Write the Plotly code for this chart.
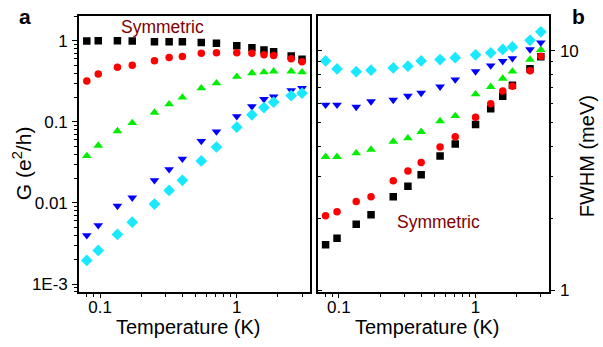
import plotly.graph_objects as go

temperature = [0.08, 0.097, 0.134, 0.172, 0.25, 0.32, 0.40, 0.55, 0.71, 1.0, 1.29, 1.58, 1.86, 2.5, 3.0]

# Panel a: conductance G (e^2/h)
g_black = [0.99, 1.0, 1.0, 0.99, 0.97, 0.97, 0.97, 0.95, 0.93, 0.87, 0.82, 0.77, 0.73, 0.65, 0.59]
g_red = [0.32, 0.39, 0.47, 0.50, 0.565, 0.62, 0.64, 0.70, 0.71, 0.71, 0.70, 0.67, 0.66, 0.60, 0.55]
g_green = [0.038, 0.051, 0.077, 0.097, 0.13, 0.165, 0.20, 0.26, 0.30, 0.36, 0.40, 0.41, 0.42, 0.42, 0.41]
g_blue = [0.0040, 0.0053, 0.0092, 0.0116, 0.019, 0.026, 0.035, 0.058, 0.076, 0.117, 0.155, 0.19, 0.205, 0.245, 0.26]
g_cyan = [0.00196, 0.0026, 0.0041, 0.0058, 0.0097, 0.0143, 0.019, 0.033, 0.049, 0.086, 0.122, 0.15, 0.175, 0.21, 0.226]

# Panel b: FWHM (meV)
w_black = [1.55, 1.65, 1.89, 2.07, 2.46, 2.72, 3.04, 3.64, 4.08, 4.93, 5.73, 6.46, 7.19, 8.41, 9.45]
w_red = [2.05, 2.13, 2.35, 2.46, 2.87, 3.15, 3.42, 3.97, 4.38, 5.28, 6.01, 6.79, 7.12, 8.26, 9.48]
w_green = [3.61, 3.61, 3.74, 3.87, 4.18, 4.32, 4.59, 5.09, 5.35, 6.59, 7.08, 7.66, 8.2, 9.19, 10.1]
w_blue = [5.95, 5.95, 5.83, 6.15, 6.24, 6.48, 6.67, 7.08, 7.59, 8.2, 8.68, 9.05, 9.3, 10.13, 10.82]
w_cyan = [9.07, 8.4, 8.18, 8.3, 8.48, 8.63, 9.07, 9.19, 9.36, 9.62, 9.81, 10.13, 10.38, 11.06, 12.0]

x_tickvals = [0.1, 1]
x_ticktext = ["0.1", "1"]
g_tickvals = [0.001, 0.01, 0.1, 1]
g_ticktext = ["1E-3", "0.01", "0.1", "1"]
w_tickvals = [1, 10]
w_ticktext = ["1", "10"]

# minor tick positions on the log axes: 2..9 within each decade
minor_vals = [d * 10.0 ** e for e in range(-4, 2) for d in range(2, 10)]

styles = [
    ("square", "#000000", 7.5),
    ("circle", "#ff0000", 7.5),
    ("triangle-up", "#00ee00", 8.5),
    ("triangle-down", "#0000ff", 8.5),
    ("diamond", "#19e8ff", 9),
]

fig = go.Figure()
for ys, (sym, col, sz) in zip([g_black, g_red, g_green, g_blue, g_cyan], styles):
    fig.add_trace(go.Scatter(x=temperature, y=ys, mode="markers",
                             marker=dict(symbol=sym, color=col, size=sz, line=dict(width=0)),
                             xaxis="x", yaxis="y", showlegend=False))
for ys, (sym, col, sz) in zip([w_black, w_red, w_green, w_blue, w_cyan], styles):
    fig.add_trace(go.Scatter(x=temperature, y=ys, mode="markers",
                             marker=dict(symbol=sym, color=col, size=sz, line=dict(width=0)),
                             xaxis="x2", yaxis="y2", showlegend=False))
# empty trace so the inner tick axis on the left edge of panel b is drawn
fig.add_trace(go.Scatter(x=[], y=[], xaxis="x2", yaxis="y3", showlegend=False))

font_family = "Liberation Sans, Arial, sans-serif"
tickfont = dict(family=font_family, size=17, color="black")
xr = [-1.154, 0.535]
ydom = [0.138, 0.954]
minor_out = dict(tickmode="array", tickvals=minor_vals, ticks="outside", ticklen=3,
                 tickcolor="black", tickwidth=1, showgrid=False)
minor_in = dict(tickmode="array", tickvals=minor_vals, ticks="inside", ticklen=3,
                tickcolor="black", tickwidth=1, showgrid=False)

common_x = dict(type="log", range=xr, tickmode="array", tickvals=x_tickvals, ticktext=x_ticktext,
                ticks="outside", ticklen=4, tickwidth=1, tickcolor="black",
                minor=minor_out,
                showline=True, linecolor="black", linewidth=1.5, mirror=True,
                showgrid=False, zeroline=False, tickfont=tickfont, ticklabelstandoff=-5)

fig.update_layout(
    width=603, height=347,
    margin=dict(l=0, r=0, t=0, b=0),
    paper_bgcolor="white", plot_bgcolor="white",
    xaxis=dict(domain=[0.131, 0.514], anchor="y", **common_x),
    xaxis2=dict(domain=[0.527, 0.910], anchor="y2", **common_x),
    yaxis=dict(domain=ydom, anchor="x", type="log", range=[-3.1, 0.31],
               tickmode="array", tickvals=g_tickvals, ticktext=g_ticktext,
               ticks="outside", ticklen=5, tickwidth=1, tickcolor="black",
               minor=minor_out,
               showline=True, linecolor="black", linewidth=1.5, mirror=True,
               showgrid=False, zeroline=False, tickfont=tickfont, ticklabelstandoff=1),
    yaxis2=dict(domain=ydom, anchor="x2", side="right", type="log", range=[-0.0074, 1.147],
                tickmode="array", tickvals=w_tickvals, ticktext=w_ticktext,
                ticks="outside", ticklen=5, tickwidth=1, tickcolor="black",
                minor=minor_out,
                showline=True, linecolor="black", linewidth=1.5, mirror=True,
                showgrid=False, zeroline=False, tickfont=tickfont, ticklabelstandoff=1),
    yaxis3=dict(domain=ydom, anchor="x2", overlaying="y2", side="left", type="log", range=[-0.0074, 1.147],
                tickmode="array", tickvals=w_tickvals, showticklabels=False,
                ticks="inside", ticklen=4, tickwidth=1, tickcolor="black",
                minor=minor_in,
                showline=False, showgrid=False, zeroline=False),
)

W, H = 603, 347
annotations = []
for txt, px, py in [("Symmetric", 162, 28), ("Symmetric", 438, 227)]:
    annotations.append(dict(text=txt, x=px / W, y=1 - py / H, xref="paper", yref="paper",
                            showarrow=False, xanchor="center", yanchor="middle",
                            font=dict(family=font_family, size=17.5, color="#800000")))
annotations += [
    dict(text="<b>a</b>", x=25 / W, y=1 - 17 / H, xref="paper", yref="paper", showarrow=False,
         xanchor="center", yanchor="middle", font=dict(family=font_family, size=21, color="black")),
    dict(text="<b>b</b>", x=578 / W, y=1 - 17 / H, xref="paper", yref="paper", showarrow=False,
         xanchor="center", yanchor="middle", font=dict(family=font_family, size=21, color="black")),
    dict(text="G (e<sup>2</sup>/h)", x=22 / W, y=1 - 167 / H, xref="paper", yref="paper",
         showarrow=False, textangle=-90, xanchor="center", yanchor="middle",
         font=dict(family=font_family, size=21, color="black")),
    dict(text="FWHM (meV)", x=587 / W, y=1 - 160 / H, xref="paper", yref="paper",
         showarrow=False, textangle=-90, xanchor="center", yanchor="middle",
         font=dict(family=font_family, size=20, color="black")),
    dict(text="Temperature (K)", x=188 / W, y=1 - 335 / H, xref="paper", yref="paper",
         showarrow=False, xanchor="center", yanchor="middle",
         font=dict(family=font_family, size=20, color="black")),
    dict(text="Temperature (K)", x=427 / W, y=1 - 335 / H, xref="paper", yref="paper",
         showarrow=False, xanchor="center", yanchor="middle",
         font=dict(family=font_family, size=20, color="black")),
]
fig.update_layout(annotations=annotations)

fig.write_html("out.html", config={"displayModeBar": False},
               post_script="document.body.style.margin='0px';")
